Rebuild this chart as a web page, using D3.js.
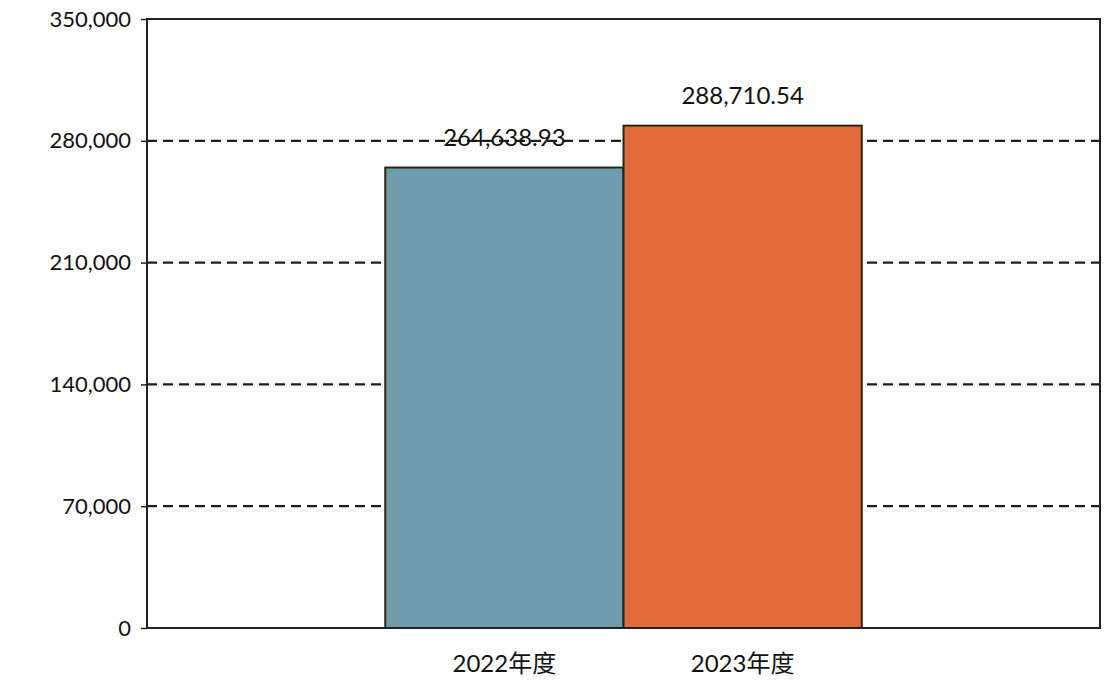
<!DOCTYPE html>
<html>
<head>
<meta charset="utf-8">
<script src="https://cdn.jsdelivr.net/npm/d3@7"></script>
<style>
  body { margin: 0; background: #fff; }
  text { font-family: Lato, "Noto Sans CJK SC", sans-serif; fill: #111; }
</style>
</head>
<body>
<div id="chart"></div>
<script>
const years = ["2022年度", "2023年度"];
const amounts = [264638.93, 288710.54];
const barColors = ["#6f9dad", "#e26c3d"];
const yTicks = [0, 70000, 140000, 210000, 280000, 350000];

const W = 1120, H = 700;
const margin = {left: 147, top: 19, right: 20, bottom: 72},
    width = W - margin.left - margin.right,
    height = H - margin.top - margin.bottom;

const svg = d3.select("#chart").append("svg")
        .attr("width", W)
        .attr("height", H)
    .append("g")
        .attr("transform", `translate(${margin.left}, ${margin.top})`);

const xScale = d3.scaleBand()
    .domain(years)
    .range([0, width])
    .paddingInner(0)
    .paddingOuter(1);  // bars sit side by side in the middle
const yScale = d3.scaleLinear()
    .domain([0, 350000])
    .range([height, 0]);

// dashed gridlines (not at 0 or top)
svg.selectAll(".grid")
    .data(yTicks.filter(t => t > 0 && t < 350000))
    .enter().append("line")
    .attr("class", "grid")
    .attr("x1", 0).attr("x2", width)
    .attr("y1", d => yScale(d)).attr("y2", d => yScale(d))
    .attr("stroke", "#1e1e14")
    .attr("stroke-width", 2.2)
    .attr("stroke-dasharray", "10,6");

// y axis
const yAxis = svg.append("g")
    .call(d3.axisLeft(yScale)
        .tickValues(yTicks)
        .tickSize(6)
        .tickPadding(10)
        .tickFormat(d3.format(",")));
yAxis.select(".domain").remove();
yAxis.selectAll("line").attr("stroke", "#222").attr("stroke-width", 1.5);
yAxis.selectAll("text")
    .attr("font-size", "22px")
    .style("font-family", "Lato, sans-serif")
    .attr("fill", "#111");

// bars
svg.selectAll(".bar")
    .data(amounts)
    .enter().append("rect")
    .attr("class", "bar")
    .attr("x", (d, i) => xScale(years[i]))
    .attr("y", d => yScale(d))
    .attr("width", xScale.bandwidth())
    .attr("height", d => height - yScale(d))
    .attr("fill", (d, i) => barColors[i])
    .attr("stroke", "#2a2412")
    .attr("stroke-width", 2);

// value labels
svg.selectAll(".barValue")
    .data(amounts)
    .enter().append("text")
    .attr("class", "barValue")
    .attr("x", (d, i) => xScale(years[i]) + xScale.bandwidth() / 2)
    .attr("y", d => yScale(d) - 22)
    .attr("text-anchor", "middle")
    .attr("font-size", "24px")
    .text(d => d3.format(",.2f")(d));

// plot frame
svg.append("rect")
    .attr("x", 0).attr("y", 0)
    .attr("width", width).attr("height", height)
    .attr("fill", "none")
    .attr("stroke", "#222")
    .attr("stroke-width", 2);

// x labels
svg.selectAll(".xLabel")
    .data(years)
    .enter().append("text")
    .attr("class", "xLabel")
    .attr("x", d => xScale(d) + xScale.bandwidth() / 2)
    .attr("y", height + 44)
    .attr("text-anchor", "middle")
    .attr("font-size", "24px")
    .style("font-family", "Lato, 'Noto Sans CJK SC', sans-serif")
    .text(d => d);
</script>
</body>
</html>
